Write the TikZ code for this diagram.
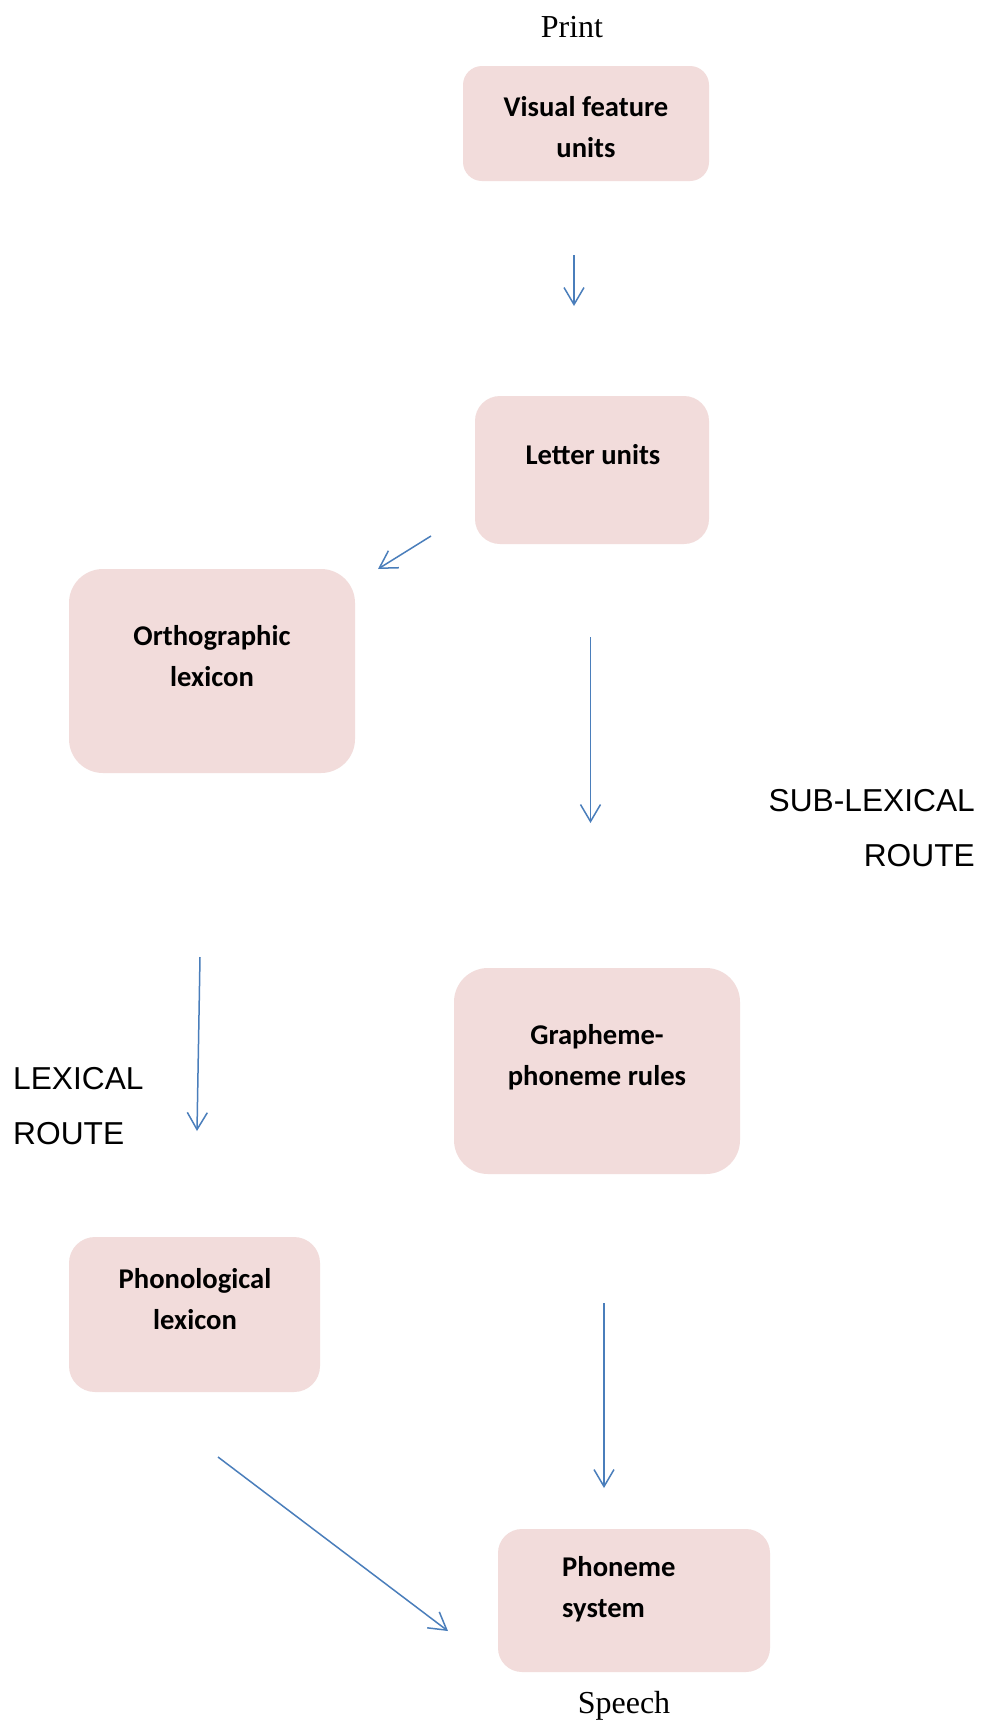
\documentclass[tikz,border=0pt]{standalone}
\usepackage{fontspec}
\setmainfont{Liberation Serif}
\newfontfamily\calibri{Carlito}
\newfontfamily\arialf{Liberation Sans}
\usetikzlibrary{arrows.meta}
\definecolor{boxpink}{HTML}{F2DCDB}
\definecolor{arrowblue}{HTML}{4A7EBB}
\tikzset{
  pbox/.style={fill=boxpink, draw=none, inner sep=0pt},
  btext/.style={font=\calibri\bfseries\fontsize{28.6}{41}\selectfont, align=center, inner sep=0pt},
  serlab/.style={font=\fontsize{32}{38}\selectfont, inner sep=0pt},
  routelab/.style={font=\arialf\fontsize{31.7}{55}\selectfont, inner sep=0pt},
  flow/.style={draw=arrowblue, line width=1.5pt, -{Straight Barb[length=17pt,width=20pt,line width=1.5pt]}}
}
\begin{document}
\begin{tikzpicture}[x=1pt,y=-1pt]
\useasboundingbox[fill=white] (0,0) rectangle (982,1724);
% boxes
\node[pbox, rounded corners=19pt, minimum width=246pt, minimum height=115pt] (vis) at (586,123.5) {};
\node[pbox, rounded corners=25pt, minimum width=234pt, minimum height=148pt] (let) at (592,470) {};
\node[pbox, rounded corners=34pt, minimum width=286pt, minimum height=204pt] (orth) at (212,671) {};
\node[pbox, rounded corners=34pt, minimum width=286pt, minimum height=206pt] (graph) at (597,1071) {};
\node[pbox, rounded corners=26pt, minimum width=251pt, minimum height=155pt] (phonol) at (194.5,1314.5) {};
\node[pbox, rounded corners=24pt, minimum width=272pt, minimum height=143pt] (phonem) at (634,1600.5) {};
% box texts
\node[btext] (vist) at (586,127) {Visual feature\\units};
\node[btext] (lett) at (593,455) {Letter units};
\node[btext] (ortht) at (212,656) {Orthographic\\lexicon};
\node[btext] (grapht) at (597,1057) {Grapheme-\\phoneme rules};
\node[btext] (phonolt) at (195,1299) {Phonological\\lexicon};
\node[btext, align=left, anchor=west] (phonemt) at (562,1589) {Phoneme\\system};
% labels
\node[serlab] (print) at (572,27) {Print};
\node[serlab] (speech) at (624,1706) {Speech};
\node[routelab, align=right, anchor=east] (sublex) at (975,828) {SUB-LEXICAL\\ROUTE};
\node[routelab, align=left, anchor=west] (lex) at (13,1106) {LEXICAL\\ROUTE};
% arrow endpoints
\coordinate (a1s) at (574,255); \coordinate (a1e) at (574,306);
\coordinate (a2s) at (431,536); \coordinate (a2e) at (378,569);
\coordinate (a3s) at (590.5,637); \coordinate (a3e) at (590.5,823);
\coordinate (a4s) at (200,957); \coordinate (a4e) at (197,1131);
\coordinate (a5s) at (604,1303); \coordinate (a5e) at (604,1488);
\coordinate (a6s) at (218,1457); \coordinate (a6e) at (448,1631);
\draw[flow] (a1s) -- (a1e);
\draw[flow] (a2s) -- (a2e);
\draw[flow] (a3s) -- (a3e);
\draw[flow] (a4s) -- (a4e);
\draw[flow] (a5s) -- (a5e);
\draw[flow] (a6s) -- (a6e);
\end{tikzpicture}
\end{document}
